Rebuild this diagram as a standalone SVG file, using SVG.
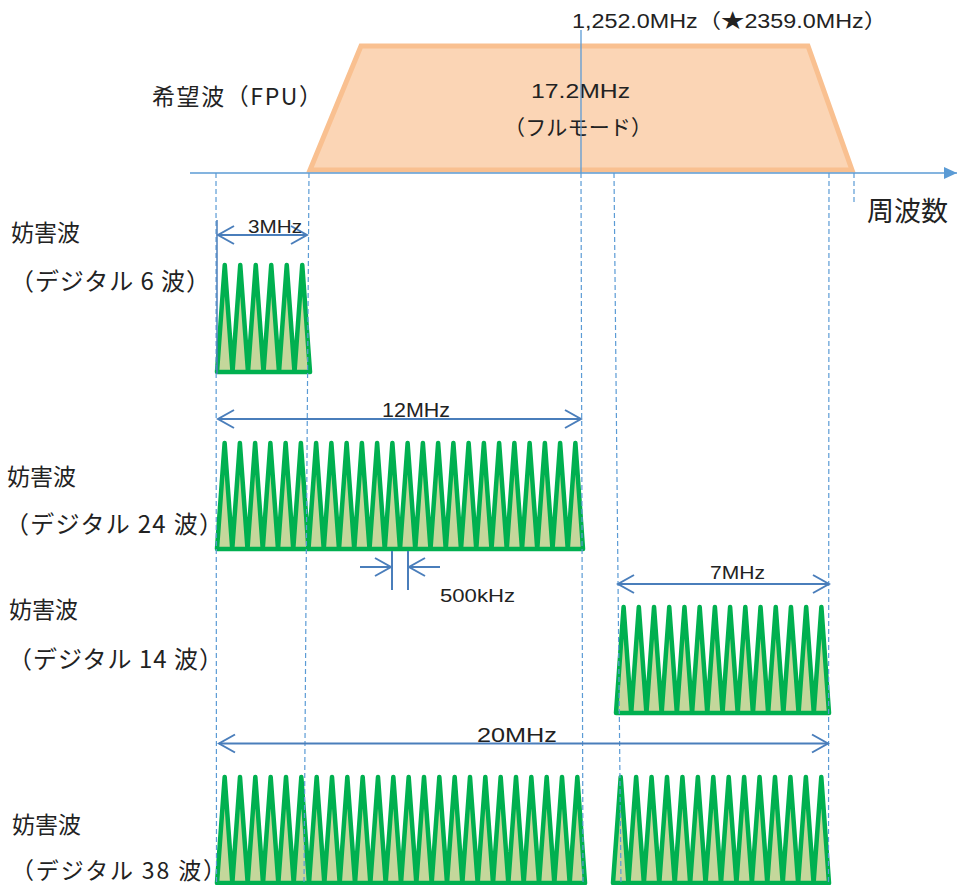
<svg xmlns="http://www.w3.org/2000/svg" width="958" height="885" viewBox="0 0 958 885">
<style>
.jp{font-family:"Noto Sans CJK JP","Noto Sans",sans-serif;fill:#222;}
.lat{font-family:"Liberation Sans","Noto Sans CJK JP",sans-serif;fill:#222;}
.wave{fill:#C4D79B;stroke:#00B050;stroke-width:4.5;stroke-linejoin:round;}
.dash{stroke:#5B9BD5;stroke-width:1.2;stroke-dasharray:5,3;fill:none;}
.dim{stroke:#4A7EBB;stroke-width:2;fill:none;}
</style>
<defs>
<marker id="ah" markerUnits="userSpaceOnUse" markerWidth="20" markerHeight="22" viewBox="0 0 20 22" refX="18" refY="11" orient="auto-start-reverse">
<path d="M2,2 L18,11 L2,20" fill="none" stroke="#4A7EBB" stroke-width="2"/>
</marker>
<marker id="axh" markerUnits="userSpaceOnUse" markerWidth="14" markerHeight="14" viewBox="0 0 14 14" refX="13" refY="7" orient="auto">
<path d="M0,1 L13,7 L0,13 Z" fill="#5B9BD5"/>
</marker>
</defs>
<rect width="958" height="885" fill="#fff"/>

<g id="fpu">
<polygon points="310,170 361,46 808,46 852,170" fill="#FBD5B5" stroke="#F9C090" stroke-width="5"/>
<text class="lat" x="531" y="98" font-size="21" textLength="99" lengthAdjust="spacingAndGlyphs">17.2MHz</text>
<text class="jp" x="578" y="135" font-size="21" text-anchor="middle" textLength="148" lengthAdjust="spacing">（フルモード）</text>
<text class="jp" x="152" y="105" font-size="23" textLength="170" lengthAdjust="spacing">希望波（FPU）</text>
</g>

<g id="axis">
<line x1="190" y1="173" x2="957" y2="173" stroke="#5B9BD5" stroke-width="1.5" marker-end="url(#axh)"/>
<line x1="581" y1="30" x2="581" y2="173" stroke="#5B9BD5" stroke-width="1.3"/>
<text class="lat" x="572" y="28" font-size="20" textLength="315" lengthAdjust="spacingAndGlyphs">1,252.0MHz（★2359.0MHz）</text>
<text class="jp" x="867" y="221" font-size="27">周波数</text>
</g>

<g id="wave6">
<polygon class="wave" points="217,372 224.75,265 232.5,372 240.25,265 248,372 255.75,265 263.5,372 271.25,265 279,372 286.75,265 294.5,372 302.25,265 310,372"/>
<text class="jp" x="11" y="241" font-size="23">妨害波</text>
<text class="jp" x="10" y="290" font-size="24" textLength="200" lengthAdjust="spacing">（デジタル 6 波）</text>
</g>

<g id="wave24">
<polygon class="wave" points="217,549 224.63,443 232.25,549 239.88,443 247.5,549 255.13,443 262.75,549 270.38,443 278,549 285.63,443 293.25,549 300.88,443 308.5,549 316.13,443 323.75,549 331.38,443 339,549 346.63,443 354.25,549 361.88,443 369.5,549 377.13,443 384.75,549 392.38,443 400,549 407.63,443 415.25,549 422.88,443 430.5,549 438.13,443 445.75,549 453.38,443 461,549 468.63,443 476.25,549 483.88,443 491.5,549 499.13,443 506.75,549 514.38,443 522,549 529.63,443 537.25,549 544.88,443 552.5,549 560.13,443 567.75,549 575.38,443 583,549"/>
<text class="jp" x="7" y="485" font-size="23">妨害波</text>
<text class="jp" x="5" y="533" font-size="24" textLength="218" lengthAdjust="spacing">（デジタル 24 波）</text>
</g>

<g id="wave14">
<polygon class="wave" points="616,713 623.61,607 631.21,713 638.82,607 646.43,713 654.04,607 661.64,713 669.25,607 676.86,713 684.46,607 692.07,713 699.68,607 707.29,713 714.89,607 722.5,713 730.11,607 737.71,713 745.32,607 752.93,713 760.54,607 768.14,713 775.75,607 783.36,713 790.96,607 798.57,713 806.18,607 813.79,713 821.39,607 829,713"/>
<text class="jp" x="9" y="618" font-size="23">妨害波</text>
<text class="jp" x="8" y="668" font-size="24" textLength="215" lengthAdjust="spacing">（デジタル 14 波）</text>
</g>

<g id="wave38">
<polygon class="wave" points="217,883 224.67,777 232.33,883 240,777 247.67,883 255.33,777 263,883 270.67,777 278.33,883 286,777 293.67,883 301.33,777 309,883 316.67,777 324.33,883 332,777 339.67,883 347.33,777 355,883 362.67,777 370.33,883 378,777 385.67,883 393.33,777 401,883 408.67,777 416.33,883 424,777 431.67,883 439.33,777 447,883 454.67,777 462.33,883 470,777 477.67,883 485.33,777 493,883 500.67,777 508.33,883 516,777 523.67,883 531.33,777 539,883 546.67,777 554.33,883 562,777 569.67,883 577.33,777 585,883"/>
<polygon class="wave" points="613,883 620.71,777 628.43,883 636.14,777 643.86,883 651.57,777 659.29,883 667,777 674.71,883 682.43,777 690.14,883 697.86,777 705.57,883 713.29,777 721,883 728.71,777 736.43,883 744.14,777 751.86,883 759.57,777 767.29,883 775,777 782.71,883 790.43,777 798.14,883 805.86,777 813.57,883 821.29,777 829,883"/>
<text class="jp" x="12" y="833" font-size="23">妨害波</text>
<text class="jp" x="11" y="879" font-size="23" textLength="215" lengthAdjust="spacing">（デジタル 38 波）</text>
</g>

<g id="guides">
<line class="dash" x1="216" y1="173" x2="216.5" y2="885"/>
<line class="dash" x1="309" y1="173" x2="304" y2="885"/>
<line class="dash" x1="581" y1="173" x2="583" y2="885"/>
<line class="dash" x1="614" y1="173" x2="621" y2="885"/>
<line class="dash" x1="829" y1="173" x2="828.5" y2="885"/>
<line class="dash" x1="854" y1="173" x2="854" y2="205"/>
</g>

<g id="connectors">
<line x1="217" y1="220" x2="217" y2="374" stroke="#4A7EBB" stroke-width="1.5"/>
<line class="dim" x1="218" y1="235" x2="307" y2="235" marker-start="url(#ah)" marker-end="url(#ah)"/>
<line class="dim" x1="218" y1="419" x2="581" y2="419" marker-start="url(#ah)" marker-end="url(#ah)"/>
<line class="dim" x1="618" y1="584" x2="829" y2="584" marker-start="url(#ah)" marker-end="url(#ah)"/>
<line class="dim" x1="219" y1="743.5" x2="828" y2="743.5" marker-start="url(#ah)" marker-end="url(#ah)"/>
<line class="dim" x1="392" y1="551" x2="392" y2="590"/>
<line class="dim" x1="408" y1="551" x2="408" y2="590"/>
<line class="dim" x1="360" y1="567" x2="391" y2="567" marker-end="url(#ah)"/>
<line class="dim" x1="440" y1="567" x2="409" y2="567" marker-end="url(#ah)"/>
</g>

<g id="labels">
<text class="lat" x="248" y="233" font-size="19" textLength="54" lengthAdjust="spacingAndGlyphs">3MHz</text>
<text class="lat" x="382" y="417" font-size="20" textLength="68" lengthAdjust="spacingAndGlyphs">12MHz</text>
<text class="lat" x="440" y="602" font-size="19" textLength="75" lengthAdjust="spacingAndGlyphs">500kHz</text>
<text class="lat" x="710" y="579" font-size="19" textLength="55" lengthAdjust="spacingAndGlyphs">7MHz</text>
<text class="lat" x="477" y="742" font-size="20" textLength="80" lengthAdjust="spacingAndGlyphs">20MHz</text>
</g>
</svg>
